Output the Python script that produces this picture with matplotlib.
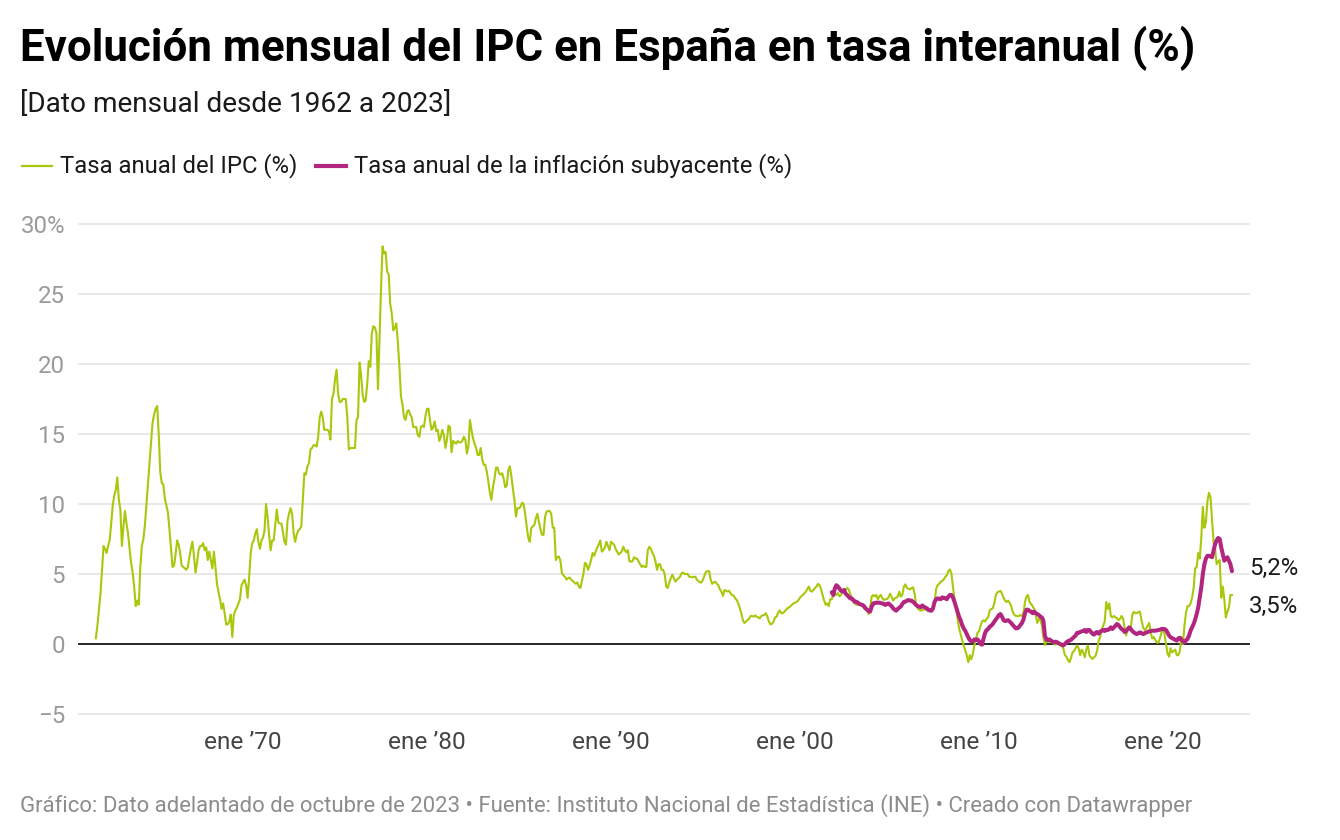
import numpy as np
import matplotlib.pyplot as plt
from matplotlib.lines import Line2D

plt.rcParams['font.family'] = ['Roboto', 'DejaVu Sans']

# Tasa anual del IPC (%), mensual desde ene 1962
ipc_1960s = [
    0.4, 1.3, 2.4, 3.6, 5.2, 7.0, 6.8, 6.5, 7.0, 7.4, 8.6, 9.9,
    10.6, 11.0, 11.9, 10.3, 9.6, 7.0, 8.4, 9.5, 8.6, 7.9, 6.8, 5.8,
    5.1, 4.1, 2.7, 3.1, 2.8, 5.5, 7.0, 7.5, 8.5, 10.0, 11.6, 13.0,
    14.4, 15.8, 16.4, 16.8, 17.0, 15.0, 12.3, 11.5, 11.4, 10.4, 9.9, 9.4,
    8.2, 6.8, 5.5, 5.6, 6.4, 7.4, 7.1, 6.5, 5.6, 5.5, 5.4, 5.3,
    5.5, 6.2, 6.8, 7.3, 6.3, 5.1, 5.8, 6.7, 7.0, 7.0, 7.2, 6.7,
    6.9, 6.0, 6.6, 6.0, 5.4, 6.6, 5.5, 4.3, 3.7, 3.2, 2.5, 2.9,
    2.2, 1.4, 1.4, 1.6, 2.1, 0.5, 2.1, 2.4, 2.6, 2.9, 3.2, 4.2,
]
ipc_1970s = [
    4.4, 4.6, 4.2, 3.3, 4.8, 6.5, 7.2, 7.4, 7.9, 8.2, 7.3, 6.8,
    7.4, 7.6, 8.1, 10.0, 9.1, 7.8, 6.7, 7.4, 7.4, 8.5, 9.6, 8.7,
    8.6, 8.6, 8.0, 7.3, 7.1, 8.8, 9.3, 9.7, 9.3, 7.9, 7.3, 7.8,
    8.1, 8.2, 8.4, 10.3, 12.2, 12.1, 12.7, 12.9, 13.9, 14.0, 14.2, 14.2,
    14.1, 14.8, 16.2, 16.6, 16.2, 15.3, 15.3, 15.3, 15.2, 14.6, 17.5, 17.9,
    18.9, 19.6, 17.9, 17.3, 17.3, 17.5, 17.5, 17.5, 16.2, 13.9, 14.0, 14.0,
    14.0, 14.0, 16.0, 16.2, 20.1, 19.2, 17.8, 17.3, 17.4, 18.6, 20.2, 19.8,
    22.2, 22.7, 22.6, 22.2, 18.2, 21.7, 25.4, 28.4, 27.9, 28.0, 26.6, 26.4,
    24.3, 23.6, 22.4, 22.6, 22.9, 21.5, 19.8, 17.7, 17.1, 16.2, 16.0, 16.6,
    16.7, 16.4, 16.2, 15.5, 15.5, 15.5, 14.9, 14.8, 15.5, 15.6, 15.5, 16.3,
]
ipc_1980s = [
    16.8, 16.8, 15.9, 15.3, 15.5, 15.9, 15.2, 15.3, 14.5, 14.8, 15.3, 14.9,
    14.0, 14.6, 15.6, 15.5, 13.7, 14.5, 14.4, 14.3, 14.5, 14.4, 14.4, 14.5,
    14.8, 14.6, 13.6, 14.1, 16.0, 15.3, 14.7, 14.3, 14.0, 13.5, 13.5, 14.0,
    13.2, 12.8, 12.8, 12.3, 11.6, 10.8, 10.3, 11.2, 11.8, 12.6, 12.6, 12.2,
    12.1, 12.2, 11.8, 11.2, 11.3, 12.4, 12.7, 12.0, 11.1, 10.3, 9.1, 9.7,
    9.7, 9.8, 10.1, 10.0, 9.3, 8.4, 7.6, 7.3, 8.3, 8.4, 8.5, 9.0,
    9.3, 8.7, 8.2, 7.8, 7.8, 9.1, 9.45, 9.5, 9.5, 9.3, 8.3, 8.3,
    6.0, 6.2, 6.25, 5.95, 5.05, 4.9, 4.8, 4.6, 4.7, 4.75, 4.6, 4.5,
    4.4, 4.3, 4.4, 4.1, 4.0, 4.5, 5.0, 5.8, 5.7, 5.3, 5.6, 6.0,
    6.5, 6.3, 6.6, 6.9, 7.1, 7.4, 6.6, 6.7, 6.9, 7.3, 7.0, 6.7,
]
ipc_1990s = [
    7.3, 7.2, 7.1, 6.8, 6.6, 6.4, 6.5, 6.6, 6.95, 6.7, 6.55, 6.7,
    5.9, 5.9, 5.9, 6.2, 6.1, 6.1, 5.9, 5.7, 5.5, 5.6, 5.5, 5.5,
    6.7, 6.95, 6.8, 6.5, 6.3, 5.9, 5.3, 5.7, 5.7, 5.3, 5.3, 5.0,
    4.1, 4.0, 4.4, 4.7, 4.95, 4.7, 4.45, 4.6, 4.7, 4.8, 5.05, 5.1,
    5.0, 5.0, 5.0, 4.8, 4.8, 4.76, 4.8, 4.8, 4.6, 4.5, 4.4, 4.4,
    4.6, 4.9, 5.17, 5.2, 5.2, 4.6, 4.3, 4.4, 4.45, 4.3, 4.2, 3.9,
    3.75, 3.43, 3.86, 3.8, 3.75, 3.8, 3.6, 3.5, 3.45, 3.26, 3.14, 2.9,
    2.55, 2.2, 1.7, 1.5, 1.6, 1.7, 1.8, 2.0, 2.0, 1.95, 2.05, 1.95,
    1.9, 1.83, 2.0, 2.05, 2.07, 2.2, 1.95, 1.6, 1.4, 1.45, 1.6, 1.9,
    1.95, 2.24, 2.4, 2.2, 2.2, 2.3, 2.43, 2.55, 2.6, 2.7, 2.8, 2.9,
]
ipc_2000s = [
    2.95, 3.0, 3.1, 3.26, 3.4, 3.5, 3.6, 3.74, 3.9, 4.1, 3.8, 3.74,
    3.86, 4.0, 4.1, 4.3, 4.2, 3.9, 3.5, 3.1, 2.8, 2.9, 2.7, 3.2,
    3.2, 3.5, 3.6, 3.5, 3.64, 3.4, 3.5, 3.7, 3.9, 3.86, 4.0, 3.9,
    3.6, 3.26, 3.0, 2.9, 2.8, 2.8, 2.9, 2.8, 2.7, 2.55, 2.5, 2.43,
    2.14, 2.55, 3.38, 3.5, 3.4, 3.5, 3.19, 3.4, 3.5, 3.26, 3.14, 3.2,
    3.2, 3.33, 3.6, 3.38, 3.1, 3.26, 3.3, 3.38, 3.74, 3.38, 3.5, 4.1,
    4.26, 4.0, 3.95, 3.9, 4.0, 4.05, 3.6, 2.8, 2.55, 2.43, 2.38, 2.43,
    2.45, 2.5, 2.4, 2.43, 2.31, 2.4, 2.43, 2.9, 3.9, 4.2, 4.3, 4.45,
    4.5, 4.6, 4.8, 4.9, 5.2, 5.33, 5.05, 4.1, 3.26, 2.55, 1.83, 1.12,
    0.7, 0.3, -0.1, -0.45, -0.8, -1.3, -0.8, -1.1, -0.7, -0.1, 0.35, 0.8,
]
ipc_2010s = [
    0.9, 1.3, 1.6, 1.7, 1.6, 1.8, 1.9, 2.4, 2.5, 2.55, 2.9, 3.5,
    3.7, 3.74, 3.8, 3.6, 3.3, 3.1, 3.0, 3.1, 2.95, 2.7, 2.3, 2.1,
    2.0, 2.0, 2.0, 2.07, 2.0, 2.2, 3.0, 3.4, 3.5, 3.0, 2.85, 2.7,
    2.5, 2.1, 1.5, 1.8, 1.7, 1.35, 0.5, -0.07, 0.24, 0.12, 0.24, 0.12,
    0.12, 0.0, -0.05, 0.12, 0.0, -0.12, -0.12, -0.31, -0.79, -0.9, -1.14, -1.3,
    -1.0, -0.6, -0.5, -0.3, -0.1, -0.3, -0.8, -0.4, -0.6, -0.95, -0.4, -0.1,
    -0.8, -0.95, -1.07, -0.95, -0.85, -0.5, 0.2, 0.5, 1.0, 1.3, 1.6, 3.0,
    2.5, 2.9, 2.0, 1.9, 2.0, 1.9, 1.85, 1.7, 1.8, 2.0, 1.8, 1.15,
    0.6, 1.1, 1.2, 1.1, 2.1, 2.3, 2.2, 2.2, 2.3, 2.3, 1.7, 1.2,
    1.0, 1.1, 1.3, 1.5, 0.8, 0.4, 0.5, 0.3, 0.1, 0.1, 0.4, 0.8,
]
ipc_2020s = [
    1.1, 0.7, 0.0, -0.7, -0.9, -0.3, -0.6, -0.5, -0.4, -0.8, -0.8, -0.5,
    0.5, 0.0, 1.3, 2.2, 2.7, 2.7, 2.9, 3.3, 4.0, 5.4, 5.5, 6.5,
    6.1, 7.6, 9.8, 8.3, 8.7, 10.2, 10.8, 10.5, 8.9, 7.3, 6.8, 5.7,
    5.9, 6.0, 3.3, 4.1, 3.2, 1.9, 2.3, 2.6, 3.5, 3.5,
]

# Tasa anual de la inflación subyacente (%), mensual desde ene 2002
core_2000s = [
    3.7, 3.5, 3.98, 4.2, 4.1, 3.95, 3.8, 3.75, 3.86, 3.6, 3.5, 3.38,
    3.26, 3.26, 3.14, 3.02, 3.02, 2.95, 2.86, 2.82, 2.79, 2.7, 2.55, 2.45,
    2.35, 2.31, 2.67, 2.9, 2.92, 2.95, 2.95, 2.95, 2.92, 2.9, 2.85, 2.79,
    2.86, 2.9, 2.8, 2.7, 2.55, 2.45, 2.38, 2.5, 2.6, 2.67, 2.86, 3.0,
    3.02, 3.1, 3.14, 3.1, 3.1, 3.02, 2.9, 2.79, 2.7, 2.67, 2.62, 2.75,
    2.67, 2.6, 2.55, 2.43, 2.4, 2.38, 2.55, 3.0, 3.2, 3.26, 3.23, 3.2,
    3.33, 3.3, 3.26, 3.2, 3.38, 3.5, 3.5, 3.33, 3.02, 2.67, 2.31, 1.95,
    1.7, 1.36, 1.12, 0.95, 0.71, 0.48, 0.29, 0.2, 0.17, 0.33, 0.29, 0.33,
]
core_2010s = [
    0.2, 0.0, -0.05, 0.4, 0.8, 1.0, 1.07, 1.24, 1.31, 1.43, 1.6, 1.75,
    1.9, 2.07, 2.14, 1.95, 1.7, 1.64, 1.67, 1.7, 1.6, 1.5, 1.36, 1.24,
    1.12, 1.12, 1.2, 1.36, 1.5, 1.75, 2.2, 2.45, 2.45, 2.35, 2.31, 2.2,
    2.31, 2.2, 2.14, 2.07, 1.95, 1.9, 1.67, 0.6, 0.3, 0.29, 0.33, 0.24,
    0.17, 0.12, 0.17, 0.12, 0.05, 0.0, -0.05, -0.1, 0.0, 0.12, 0.2, 0.24,
    0.3, 0.4, 0.5, 0.6, 0.8, 0.8, 0.86, 0.9, 0.93, 1.0, 0.86, 1.0,
    1.0, 0.86, 0.74, 0.67, 0.8, 0.86, 0.74, 0.86, 0.95, 1.0, 0.93, 1.02,
    1.0, 1.07, 1.19, 1.07, 1.19, 1.31, 1.43, 1.35, 1.2, 1.07, 1.0, 0.86,
    0.93, 1.07, 1.19, 1.07, 0.93, 0.83, 0.75, 0.71, 0.78, 0.83, 0.78, 0.71,
    0.75, 0.83, 0.85, 0.9, 0.92, 0.95, 0.95, 0.95, 0.97, 1.0, 1.02, 1.07,
]
core_2020s = [
    1.07, 1.07, 1.0, 0.8, 0.6, 0.48, 0.42, 0.36, 0.3, 0.24, 0.4, 0.45,
    0.3, 0.2, 0.12, 0.25, 0.36, 0.6, 0.95, 1.2, 1.43, 1.75, 2.14, 2.62,
    3.33, 4.05, 5.0, 5.7, 6.1, 6.3, 6.3, 6.25, 6.2, 6.67, 7.14, 7.4,
    7.57, 7.5, 6.9, 6.43, 5.95, 6.07, 6.2, 5.95, 5.7, 5.2,
]

ipc = np.array(ipc_1960s + ipc_1970s + ipc_1980s + ipc_1990s + ipc_2000s + ipc_2010s + ipc_2020s)
core = np.array(core_2000s + core_2010s + core_2020s)
t_ipc = 1962 + np.arange(len(ipc)) / 12
t_core = 2002 + np.arange(len(core)) / 12

x_ticks = [1970, 1980, 1990, 2000, 2010, 2020]
x_labels = ["ene \u201970", "ene \u201980", "ene \u201990", "ene \u201900", "ene \u201910", "ene \u201920"]
y_ticks = [-5, 0, 5, 10, 15, 20, 25, 30]
y_labels = ["\u22125", "0", "5", "10", "15", "20", "25", "30%"]

green = '#a8c80c'
magenta = '#b3267f'

fig = plt.figure(figsize=(13.4, 8.4), dpi=100)
ax = fig.add_axes([78 / 1340, 1 - 718.2 / 840, 1172 / 1340, 498.4 / 840])
ax.set_xlim(1961.03, 2024.73)
ax.set_ylim(-5.3, 30.3)

ax.set_yticks(y_ticks)
ax.set_yticklabels(y_labels, fontsize=17.3, color='#9a9a9a')
ax.set_xticks(x_ticks)
ax.set_xticklabels(x_labels, fontsize=17.6, color='#444444')
ax.tick_params(axis='both', length=0)
ax.tick_params(axis='y', pad=9.4)
ax.tick_params(axis='x', pad=9.5)
ax.grid(axis='y', color='#e3e3e3', lw=1.1)
ax.set_axisbelow(True)
for s in ax.spines.values():
    s.set_visible(False)
ax.axhline(0, color='#1a1a1a', lw=1.3, zorder=2)

ax.plot(t_ipc, ipc, color=green, lw=1.5, zorder=3, solid_joinstyle='round')
ax.plot(t_core, core, color=magenta, lw=2.9, zorder=4, solid_joinstyle='round',
        solid_capstyle='round')

ax.annotate(f"{core[-1]:.1f}%".replace('.', ','), (t_core[-1], core[-1]),
            xytext=(12.2, 2), textcoords='offset points', va='center',
            fontsize=17.3, color='#1a1a1a')
ax.annotate(f"{ipc[-1]:.1f}%".replace('.', ','), (t_ipc[-1], ipc[-1]),
            xytext=(12.2, -8), textcoords='offset points', va='center',
            fontsize=17.3, color='#1a1a1a')

# cabecera
fig.text(20 / 1340, 1 - 48 / 840, "Evolución mensual del IPC en España en tasa interanual (%)",
         fontsize=31.6, fontweight='bold', va='center', ha='left', color='#000000')
fig.text(20 / 1340, 1 - 105 / 840, "[Dato mensual desde 1962 a 2023]",
         fontsize=20.2, va='center', ha='left', color='#1a1a1a')

# leyenda
ly = 1 - 166 / 840
fig.add_artist(Line2D([22 / 1340, 52 / 1340], [ly, ly], color=green, lw=1.6))
fig.text(60 / 1340, ly, "Tasa anual del IPC (%)", fontsize=17.2, va='center', color='#1a1a1a')
fig.add_artist(Line2D([316 / 1340, 346 / 1340], [ly, ly], color=magenta, lw=3))
fig.text(354 / 1340, ly, "Tasa anual de la inflación subyacente (%)", fontsize=17.2,
         va='center', color='#1a1a1a')

fig.text(20 / 1340, 1 - 806 / 840,
         "Gráfico: Dato adelantado de octubre de 2023 \u2022 Fuente: Instituto Nacional de "
         "Estadística (INE) \u2022 Creado con Datawrapper",
         fontsize=15.9, va='center', ha='left', color='#8c8c8c')

fig.savefig('out.png', dpi=100)
